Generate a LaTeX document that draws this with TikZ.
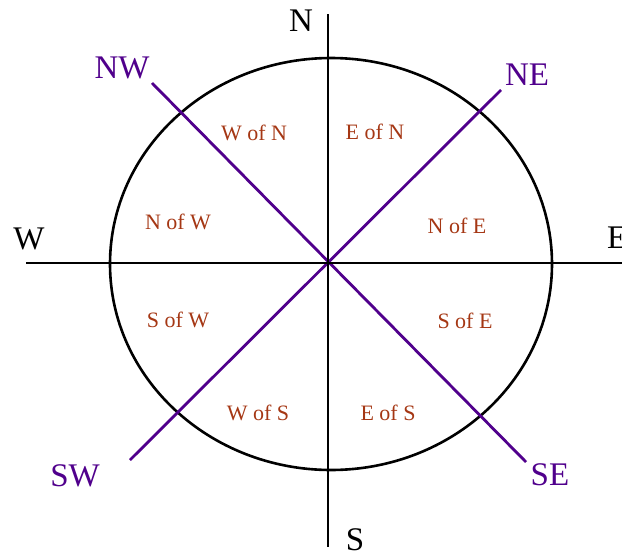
\documentclass[tikz,border=0pt]{standalone}
\usepackage{fontspec}
\setmainfont{Liberation Serif}
\usetikzlibrary{shapes.geometric}
\definecolor{dirpurple}{RGB}{80,0,140}
\definecolor{sectred}{RGB}{165,55,20}
\tikzset{
  axis/.style={draw=black,line width=2.8pt},
  diag/.style={draw=dirpurple,line width=2.8pt},
  ring/.style={draw=black,line width=2.6pt},
  mainlbl/.style={font=\fontsize{33}{35}\selectfont,text=black,inner sep=0pt},
  interlbl/.style={font=\fontsize{33}{35}\selectfont,text=dirpurple,inner sep=0pt},
  sectlbl/.style={font=\fontsize{22}{24}\selectfont,text=sectred,inner sep=0pt},
}
\begin{document}
\begin{tikzpicture}[x=1pt,y=-1pt]
\useasboundingbox (0,0) rectangle (622,557);
% ellipse
\node[ring,ellipse,minimum width=442pt,minimum height=412pt,inner sep=0pt] (circ) at (331,264) {};
% axis end points
\coordinate (ntop) at (328,14);
\coordinate (sbot) at (328,547);
\coordinate (wend) at (26,263);
\coordinate (eend) at (624,263);
\coordinate (nwend) at (152,83);
\coordinate (seend) at (526,462);
\coordinate (neend) at (501,90);
\coordinate (swend) at (130,460);
\draw[diag] (nwend) -- (seend);
\draw[diag] (neend) -- (swend);
\draw[axis] (ntop) -- (sbot);
\draw[axis] (wend) -- (eend);
% main labels
\node[mainlbl] (N) at (301,21) {N};
\node[mainlbl] (S) at (355,540) {S};
\node[mainlbl] (W) at (29,239) {W};
\node[mainlbl,anchor=west] (E) at (607,238) {E};
\node[interlbl] (NW) at (122,68) {NW};
\node[interlbl] (NE) at (527,75) {NE};
\node[interlbl] (SW) at (75,476) {SW};
\node[interlbl] (SE) at (550,475) {SE};
% sector labels
\node[sectlbl] (WN) at (254,133) {W of N};
\node[sectlbl] (EN) at (375,132) {E of N};
\node[sectlbl] (NWl) at (178,222) {N of W};
\node[sectlbl] (NEl) at (457,226) {N of E};
\node[sectlbl] (SWl) at (178,320) {S of W};
\node[sectlbl] (SEl) at (465,321) {S of E};
\node[sectlbl] (WS) at (258,413) {W of S};
\node[sectlbl] (ES) at (388,413) {E of S};
\end{tikzpicture}
\end{document}
